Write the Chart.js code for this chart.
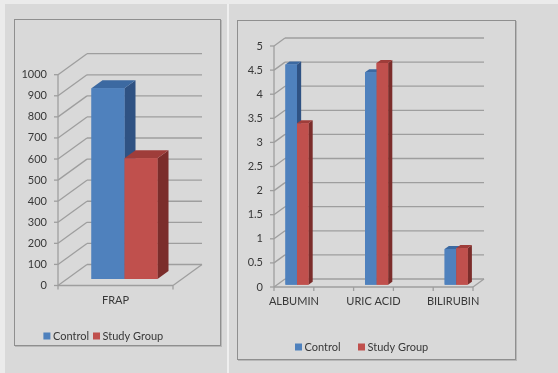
<!DOCTYPE html>
<html>
<head>
<meta charset="utf-8">
<script src="https://cdn.jsdelivr.net/npm/chart.js@4.4.1/dist/chart.umd.min.js"></script>
<style>
  html, body { margin: 0; padding: 0; }
  body { width: 558px; height: 373px; background: #d9d9d9; position: relative; overflow: hidden; }
  .strip-top { position: absolute; left: 0; top: 0; width: 558px; height: 4px; background: #ebebeb; }
  .strip-left { position: absolute; left: 0; top: 0; width: 5px; height: 373px; background: #ebebeb; }
  .sep { position: absolute; left: 227px; top: 4px; width: 2px; height: 369px; background: #efefef; }
  .panel { position: absolute; box-sizing: border-box; border: 1px solid #8f8f8f; box-shadow: 1px 1px 0 #b8b8b8; }
  .panel canvas { display: block; }
</style>
</head>
<body>
<div class="strip-top"></div>
<div class="strip-left"></div>
<div class="sep"></div>
<div class="panel" style="left:14px; top:19px; width:207px; height:327px;">
  <canvas id="frapChart" width="205" height="325" style="width:205px; height:325px;"></canvas>
</div>
<div class="panel" style="left:237px; top:20px; width:279px; height:340px;">
  <canvas id="bioChart" width="277" height="338" style="width:277px; height:338px;"></canvas>
</div>
<script>
// Series shared by both charts
const seriesNames = ['Control', 'Study Group'];
const frontColors = ['#4f81bd', '#c0504d'];
const sideColors = ['#2f5283', '#7b2d2b'];
const topColors = ['#3c69a1', '#9f3d3a'];

// Antioxidant capacity
const frapCategories = ['FRAP'];
const frapControl = [905];
const frapStudy = [573];
const frapTicks = { min: 0, max: 1000, step: 100 };

// Serum antioxidants (blank slots keep the spacing between groups)
const bioCategories = ['ALBUMIN', '', 'URIC ACID', '', 'BILIRUBIN'];
const bioControl = [4.57, null, 4.41, null, 0.74];
const bioStudy = [3.35, null, 4.60, null, 0.76];
const bioTicks = { min: 0, max: 5, step: 0.5 };

const textColor = '#383838';
const gridColor = '#9e9e9e';
const baseFont = { family: 'Lato, "Open Sans", sans-serif', size: 11 };

// Pseudo-3D frame: back wall grid, floor, and extruded columns.
function column3d(cfg) {
  const line = (ctx, x1, y1, x2, y2) => {
    ctx.beginPath(); ctx.moveTo(x1, y1); ctx.lineTo(x2, y2); ctx.stroke();
  };
  const poly = (ctx, pts) => {
    ctx.beginPath();
    ctx.moveTo(pts[0][0], pts[0][1]);
    for (let k = 1; k < pts.length; k++) ctx.lineTo(pts[k][0], pts[k][1]);
    ctx.closePath(); ctx.fill();
  };
  return {
    id: 'column3d',
    beforeDatasetsDraw(chart) {
      const { ctx, chartArea: a, scales: { x, y } } = chart;
      const [dx, dy] = cfg.depth;
      ctx.save();
      ctx.strokeStyle = gridColor;
      ctx.lineWidth = 1.3;
      y.ticks.forEach(t => {
        const py = y.getPixelForValue(t.value);
        line(ctx, a.left - 4, py, a.left, py);
        line(ctx, a.left, py, a.left + dx, py + dy);
        line(ctx, a.left + dx, py + dy, a.right + dx, py + dy);
      });
      line(ctx, a.left, a.top, a.left, a.bottom);
      line(ctx, a.left, a.bottom, a.right, a.bottom);
      line(ctx, a.right, a.bottom, a.right + dx, a.bottom + dy);
      const n = chart.data.labels.length;
      for (let i = 0; i <= n; i++) {
        const px = x.getPixelForValue(i - 0.5);
        line(ctx, px, a.bottom, px, a.bottom + 4);
      }
      ctx.restore();
      // columns stand partway into the depth of the floor
      ctx.save();
      ctx.translate(dx * cfg.front, dy * cfg.front);
    },
    afterDatasetsDraw(chart) {
      const { ctx } = chart;
      const [dx, dy] = cfg.depth;
      const bx = dx * cfg.thickness, by = dy * cfg.thickness;
      const datasets = chart.data.datasets;
      const n = chart.data.labels.length;
      for (let j = 0; j < n; j++) {
        for (let i = 0; i < datasets.length; i++) {
          if (datasets[i].data[j] == null) continue;
          const el = chart.getDatasetMeta(i).data[j];
          if (!el) continue;
          const { x, y, base, width } = el.getProps(['x', 'y', 'base', 'width'], true);
          if (!isFinite(y)) continue;
          const l = x - width / 2, r = x + width / 2;
          ctx.fillStyle = sideColors[i];
          poly(ctx, [[r, y], [r + bx, y + by], [r + bx, base + by], [r, base]]);
          ctx.fillStyle = topColors[i];
          poly(ctx, [[l, y], [r, y], [r + bx, y + by], [l + bx, y + by]]);
          ctx.fillStyle = frontColors[i];
          ctx.fillRect(l, y, width, base - y);
        }
      }
      ctx.restore();
    },
    afterDraw(chart) {
      const { ctx } = chart;
      const lg = cfg.legend;
      ctx.save();
      ctx.font = `${baseFont.size}px ${baseFont.family}`;
      ctx.textBaseline = 'middle';
      ctx.textAlign = 'left';
      chart.data.datasets.forEach((ds, i) => {
        const bx0 = lg.xs[i];
        ctx.fillStyle = ds.backgroundColor;
        ctx.fillRect(bx0, lg.y - 3.5, 7, 7);
        ctx.fillStyle = textColor;
        ctx.fillText(ds.label, bx0 + 9.5, lg.y + 0.5);
      });
      ctx.restore();
    }
  };
}

function makeChart(id, labels, a, b, ticks, box, cfg) {
  return new Chart(document.getElementById(id), {
    type: 'bar',
    data: {
      labels: labels,
      datasets: [
        { label: seriesNames[0], data: a, backgroundColor: frontColors[0] },
        { label: seriesNames[1], data: b, backgroundColor: frontColors[1] }
      ]
    },
    options: {
      responsive: false,
      animation: false,
      devicePixelRatio: 1,
      layout: { padding: box.padding },
      datasets: { bar: { categoryPercentage: cfg.groupWidth, barPercentage: 1, borderWidth: 0 } },
      plugins: { legend: { display: false }, tooltip: { enabled: false } },
      scales: {
        x: {
          grid: { display: false, drawTicks: false },
          border: { display: false },
          ticks: { padding: box.xPad, color: textColor, font: baseFont, maxRotation: 0, minRotation: 0, autoSkip: false },
          afterFit: s => { s.height = 30; }
        },
        y: {
          min: ticks.min, max: ticks.max,
          grid: { display: false, drawTicks: false },
          border: { display: false },
          ticks: { stepSize: ticks.step, padding: 11, color: textColor, font: baseFont, callback: v => String(v) },
          afterFit: s => { s.width = box.yWidth; }
        }
      }
    },
    plugins: [column3d(cfg)]
  });
}

makeChart('frapChart', frapCategories, frapControl, frapStudy, frapTicks,
  { padding: { left: 0, right: 47, top: 54.7, bottom: 29.5 }, yWidth: 43, xPad: 8 },
  { depth: [29, -21], front: 0.31, thickness: 0.38, groupWidth: 0.574, legend: { xs: [28.4, 78], y: 316 } });

makeChart('bioChart', bioCategories, bioControl, bioStudy, bioTicks,
  { padding: { left: 0, right: 42, top: 25, bottom: 42 }, yWidth: 36, xPad: 8 },
  { depth: [11, -8], front: 0.28, thickness: 0.38, groupWidth: 0.58, legend: { xs: [57, 120], y: 326 } });
</script>
</body>
</html>
